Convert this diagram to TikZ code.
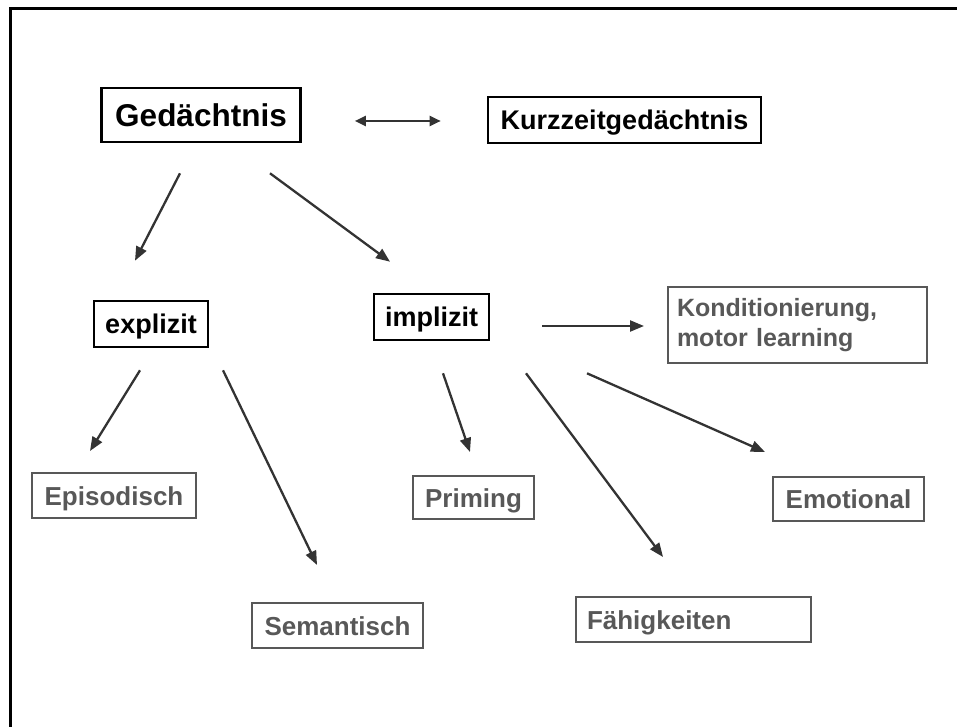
\documentclass[tikz,border=0pt]{standalone}
\usepackage{fontspec}
\setmainfont{Liberation Sans}
\usetikzlibrary{positioning, calc}
\usetikzlibrary{arrows.meta}

\definecolor{leafgray}{RGB}{88,88,88}

\tikzset{
  caps/.style={text height=19pt, text depth=0pt},
  main/.style={draw, line width=2.6pt, font=\bfseries\fontsize{27}{30}\selectfont, inner sep=0pt, caps},
  leaf/.style={draw=leafgray, line width=2pt, text=leafgray, font=\bfseries\fontsize{26}{30}\selectfont, inner sep=0pt},
  arr/.style={-{Triangle[length=14pt, width=11pt]}, line width=2.3pt, draw=black!80, fill=black!80}
}

\begin{document}
\begin{tikzpicture}[x=1pt, y=-1pt]
  \useasboundingbox (0,0) rectangle (957,727);
  % frame
  \draw[line width=3pt] (10,727) -- (10,9) -- (957,9);

  \node[main, minimum width=199pt, minimum height=54pt, text height=22.6pt, font=\bfseries\fontsize{31.5}{34}\selectfont] (ged) at (201,115) {Gedächtnis};
  \node[main, minimum width=273pt, minimum height=46pt] (kurz) at (624.5,120) {Kurzzeitgedächtnis};
  \node[main, minimum width=114pt, minimum height=46pt] (expl) at (151,324) {explizit};
  \node[main, minimum width=115pt, minimum height=46pt] (impl) at (431.5,317) {implizit};

  \node[leaf, minimum width=259pt, minimum height=76pt, text width=241pt, align=left, font=\bfseries\fontsize{25}{30}\selectfont] (kond) at (797.5,325) {Konditionierung,\\motor learning};
  \node[leaf, caps, minimum width=164pt, minimum height=45pt] (epi) at (114,495.5) {Episodisch};
  \node[leaf, caps, minimum width=121pt, minimum height=43pt] (prim) at (473.5,497.5) {Priming};
  \node[leaf, caps, minimum width=151pt, minimum height=44pt] (emo) at (848.5,499) {Emotional};
  \node[leaf, caps, minimum width=171pt, minimum height=45pt] (sem) at (337.5,625.5) {Semantisch};
  \node[leaf, caps, minimum width=235pt, minimum height=45pt, text width=213pt, align=left] (faeh) at (693.5,619.5) {Fähigkeiten};

  \draw[arr, {Triangle[length=11pt, width=10pt]}-{Triangle[length=11pt, width=10pt]}] ($(ged.east)+(53,6)$) -- ($(kurz.west)+(-46,1)$);

  \draw[arr] ($(ged.south)+(-21,30)$) -- ($(expl.north)+(-16,-39)$);
  \draw[arr] ($(ged.south)+(69,30)$) -- ($(impl.north)+(-41.5,-31)$);

  \draw[arr] ($(impl.east)+(52,9)$) -- ($(kond.west)+(-23,1)$);

  \draw[arr] ($(expl.south)+(-11,22)$) -- ($(epi.north)+(-24,-21)$);
  \draw[arr] ($(expl.south)+(72,22)$) -- ($(sem.north)+(-20.5,-37)$);

  \draw[arr] ($(impl.south)+(11.5,32)$) -- ($(prim.north)+(-3.5,-23)$);
  \draw[arr] ($(impl.south)+(94.5,32)$) -- ($(faeh.north)+(-30.5,-39)$);
  \draw[arr] ($(impl.south)+(155.5,32)$) -- ($(emo.north)+(-83.5,-24)$);
\end{tikzpicture}
\end{document}
